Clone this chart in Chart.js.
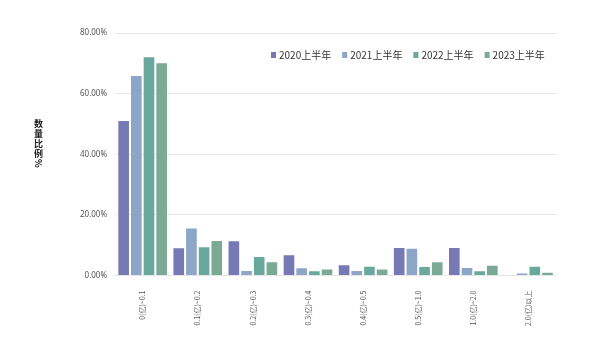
<!DOCTYPE html>
<html>
<head>
<meta charset="utf-8">
<script src="https://cdn.jsdelivr.net/npm/chart.js@4.4.0/dist/chart.umd.min.js"></script>
<style>
  html, body { margin: 0; padding: 0; background: #fff; }
  #wrap { position: relative; width: 600px; height: 337px; }
  #ytitle {
    position: absolute; left: 33px; top: 119px;
    writing-mode: vertical-rl;
    font-family: "Noto Sans CJK SC", sans-serif;
    font-size: 9px; font-weight: bold; line-height: 11px;
    letter-spacing: 1px; color: #222;
  }
</style>
</head>
<body>
<div id="wrap"><canvas id="myChart"></canvas><div id="ytitle">数量比例%</div></div>
<script>
// chart values
let categories = ['0(亿)~0.1', '0.1(亿)~0.2', '0.2(亿)~0.3', '0.3(亿)~0.4', '0.4(亿)~0.5', '0.5(亿)~1.0', '1.0(亿)~2.0', '2.0(亿)以上'];
let seriesNames = ['2020上半年', '2021上半年', '2022上半年', '2023上半年'];
let data2020 = [51.0, 9.0, 11.3, 6.7, 3.4, 9.1, 9.1, 0];
let data2021 = [65.8, 15.5, 1.5, 2.4, 1.5, 8.8, 2.5, 0.7];
let data2022 = [72.0, 9.3, 6.1, 1.4, 2.9, 2.8, 1.4, 2.9];
let data2023 = [70.0, 11.4, 4.4, 2.0, 2.0, 4.4, 3.2, 0.9];
let yTicks = [0, 20, 40, 60, 80];

let colors = ['#7679b3', '#8da5c6', '#69a99d', '#7aa994'];
let allData = [data2020, data2021, data2022, data2023];

// legend row inside the plot, top right
let legendPlugin = {
    id: 'innerLegend',
    afterDraw(chart) {
        let c = chart.ctx;
        c.save();
        c.font = '10px "Noto Sans CJK SC"';
        c.textBaseline = 'middle';
        let x = 271;
        let y = chart.chartArea.top + 22;
        chart.data.datasets.forEach(function (ds) {
            c.fillStyle = ds.backgroundColor;
            c.fillRect(x, y - 3, 5, 6);
            c.fillStyle = '#333';
            c.fillText(ds.label, x + 8, y);
            x += 8 + c.measureText(ds.label).width + 11;
        });
        c.restore();
    }
};

let ctx = document.getElementById('myChart').getContext('2d');
let myChart = new Chart(ctx, {
    type: 'bar',
    data: {
        labels: categories,
        datasets: seriesNames.map(function (name, i) {
            return {
                label: name,
                data: allData[i],
                backgroundColor: colors[i],
                borderWidth: 0
            };
        })
    },
    options: {
        responsive: true,
        maintainAspectRatio: false,
        animation: false,
        categoryPercentage: 0.92,
        barPercentage: 0.84,
        layout: { padding: { left: 72, right: 44, top: 33, bottom: 4 } },
        plugins: {
            tooltip: { enabled: false },
            legend: { display: false }
        },
        scales: {
            x: {
                grid: { display: false },
                border: { display: false },
                ticks: {
                    minRotation: 90,
                    maxRotation: 90,
                    color: '#555',
                    padding: 7,
                    font: { family: '"Noto Sans CJK SC"', size: 7 }
                }
            },
            y: {
                min: 0,
                max: 80,
                afterBuildTicks: function (axis) {
                    axis.ticks = yTicks.map(function (v) { return { value: v }; });
                },
                grid: { color: '#e6e6e6', drawTicks: false },
                border: { display: false },
                ticks: {
                    padding: 8,
                    color: '#555',
                    font: { family: '"Noto Sans"', size: 8 },
                    callback: function (v) { return v.toFixed(2) + '%'; }
                }
            }
        }
    },
    plugins: [legendPlugin]
});
</script>
</body>
</html>
